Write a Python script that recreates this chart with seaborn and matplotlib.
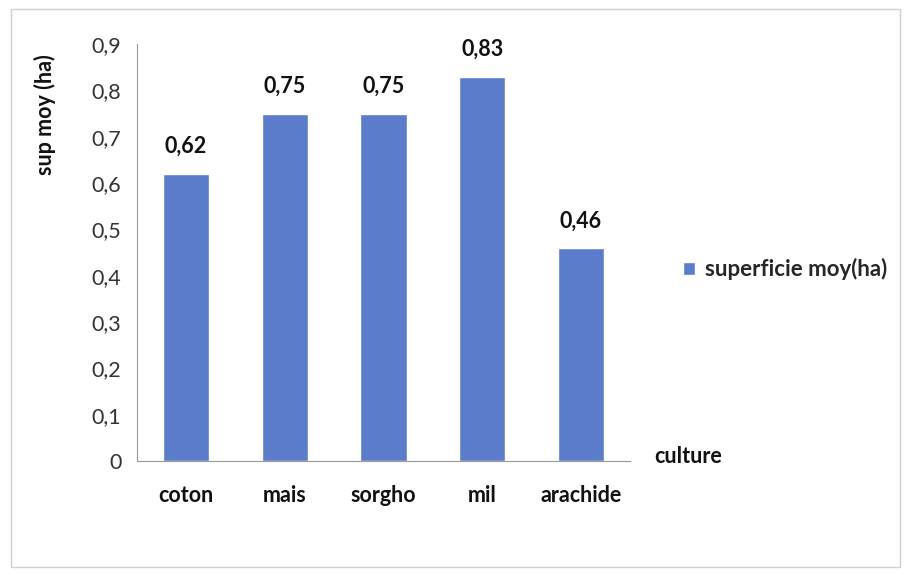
import matplotlib
matplotlib.use("Agg")
from matplotlib import pyplot as plt
from matplotlib.patches import Rectangle
from matplotlib.ticker import FuncFormatter, FixedLocator
import seaborn as sns
import pandas as pd

# données
cultures = ["coton", "mais", "sorgho", "mil", "arachide"]
superficie = [0.62, 0.75, 0.75, 0.83, 0.46]
y_ticks = [0, 0.1, 0.2, 0.3, 0.4, 0.5, 0.6, 0.7, 0.8, 0.9]

df = pd.DataFrame({"culture": cultures, "superficie": superficie})

sns.set_style("white")
plt.rcParams["font.family"] = ["Lato", "DejaVu Sans"]
fs = 15.5

fig = plt.figure(figsize=(9.11, 5.74), dpi=100)
ax = fig.add_axes([0.150, 0.197, 0.542, 0.726])

sns.barplot(data=df, x="culture", y="superficie", color="#5b7bcb",
            width=0.47, saturation=1, label="superficie moy(ha)", ax=ax)

# étiquettes de valeurs
for c in ax.containers:
    ax.bar_label(c, labels=[f"{v:.2f}".replace(".", ",") for v in c.datavalues],
                 padding=12, fontsize=fs, fontweight="bold", color="#111111")

ax.set_ylim(0, 0.9)
ax.set_xlim(-0.5, len(cultures) - 0.5)
ax.set_yticks(y_ticks)
ax.yaxis.set_major_formatter(FuncFormatter(lambda v, p: f"{v:.1f}".replace(".", ",") if v else "0"))
ax.tick_params(axis="y", labelsize=fs, labelcolor="#333333", length=5, width=0.8, color="#999999", pad=6)
ax.tick_params(axis="x", labelsize=fs, length=0, pad=17)
for lab in ax.get_xticklabels():
    lab.set_fontweight("bold")
    lab.set_color("#111111")

# petits traits entre catégories
ax.xaxis.set_minor_locator(FixedLocator([i + 0.5 for i in range(-1, len(cultures))]))
ax.tick_params(axis="x", which="minor", length=5, width=0.8, color="#999999")

ax.set_xlabel("")
ax.set_ylabel("")
for s in ["top", "right"]:
    ax.spines[s].set_visible(False)
ax.spines["left"].set_color("#999999")
ax.spines["bottom"].set_color("#999999")

fig.text(0.049, 0.80, "sup moy (ha)", rotation=90, fontsize=fs, fontweight="bold",
         ha="center", va="center", color="#111111")
fig.text(0.718, 0.205, "culture", fontsize=fs, fontweight="bold", ha="left",
         va="center", color="#111111")

ax.legend(loc="center left", bbox_to_anchor=(1.065, 0.46), frameon=False,
          handlelength=0.55, handleheight=0.55, handletextpad=0.45,
          prop={"weight": "bold", "size": 16})

fig.patches.append(Rectangle((0.012, 0.012), 0.976, 0.972, transform=fig.transFigure,
                             fill=False, edgecolor="#d0d0d0", linewidth=1))

fig.savefig("out.png", dpi=100)
